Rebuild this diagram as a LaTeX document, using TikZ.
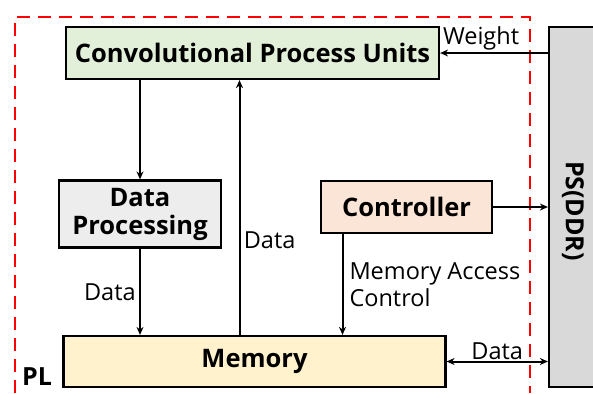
\documentclass[tikz,border=0pt]{standalone}
\usepackage{fontspec}
\setmainfont{Open Sans}
\usetikzlibrary{arrows.meta}
\definecolor{convgreen}{RGB}{226,240,217}
\definecolor{procgray}{RGB}{237,237,237}
\definecolor{ctrlpeach}{RGB}{251,229,214}
\definecolor{memyellow}{RGB}{255,242,204}
\definecolor{psgray}{RGB}{217,217,217}
\begin{document}
\begin{tikzpicture}[x=1pt, y=-1pt, font=\fontsize{23.5}{27}\selectfont,
	unit/.style={draw, line width=2.2pt, inner sep=0pt, align=center,
		font=\bfseries\fontsize{25.5}{28}\selectfont},
	link/.style={-{Stealth[length=8pt,width=7pt]}, line width=2pt},
	twoway/.style={{Stealth[length=8pt,width=7pt]}-{Stealth[length=8pt,width=7pt]}, line width=2pt}]
	\useasboundingbox (0,0) rectangle (593,393);
	%PL border
	\draw[red, line width=2pt, dash pattern=on 13pt off 8pt]
	(15,393) -- (15,17) -- (530,17) -- (530,393);
	\node[font=\bfseries\fontsize{25}{28}\selectfont] (pl) at (37,377) {PL};
	%blocks
	\node[unit, fill=convgreen, minimum width=373pt, minimum height=52pt] (cpu) at (252.5,53) {Convolutional Process Units};
	\node[unit, fill=procgray, minimum width=162pt, minimum height=67pt] (proc) at (140,214) {Data\\Processing};
	\node[unit, fill=ctrlpeach, minimum width=171pt, minimum height=52pt] (ctrl) at (406.5,207) {Controller};
	\node[unit, fill=memyellow, minimum width=382pt, minimum height=51pt] (mem) at (254.5,361.5) {Memory};
	\node[unit, fill=psgray, minimum width=56pt, minimum height=360pt] (ps) at (577,207) {};
	\node[rotate=-90, font=\bfseries\fontsize{25}{28}\selectfont] (ps text) at (573,211) {PS(DDR)};
	%links
	\coordinate (mem up) at ([xshift=-15pt]mem.north);
	\coordinate (ctrl down) at ([xshift=-64pt]ctrl.south);
	\draw[link] (ps.west |- cpu.east) -- (cpu.east)
	node[pos=0.62, above, inner sep=2pt] {Weight};
	\draw[link] (proc.north |- cpu.south) -- (proc.north);
	\draw[link] (proc.south) -- (proc.south |- mem.north)
	node[midway, left] {Data};
	\draw[link] (mem up) -- (mem up |- cpu.south)
	node[pos=0.37, right] {Data};
	\draw[link] (ctrl.east) -- (ctrl.east -| ps.west);
	\draw[link] (ctrl down) -- (ctrl down |- mem.north)
	node[midway, right, align=left, inner sep=6pt] {Memory Access\\Control};
	\draw[twoway] (mem.east) -- (mem.east -| ps.west)
	node[midway, above, inner sep=1pt] {Data};
\end{tikzpicture}
\end{document}
